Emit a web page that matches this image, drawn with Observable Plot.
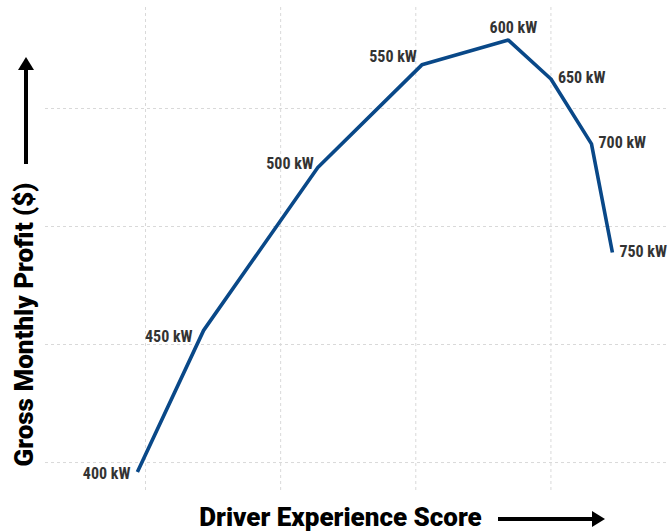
<!DOCTYPE html>
<html>
<head>
<meta charset="utf-8">
<script src="https://cdn.jsdelivr.net/npm/d3@7"></script>
<script src="https://cdn.jsdelivr.net/npm/@observablehq/plot@0.6"></script>
<style>
  html, body { margin: 0; padding: 0; background: #fff; }
  #chart svg { display: block; }
</style>
</head>
<body>
<div id="chart"></div>
<script>
// Data
const powerLabels = ["400 kW", "450 kW", "500 kW", "550 kW", "600 kW", "650 kW", "700 kW", "750 kW"];
const experienceScore = [18.8, 28.6, 45.5, 60.9, 73.7, 80.0, 86.0, 89.1];
const grossProfit = [920, 2120, 3500, 4370, 4580, 4250, 3700, 2780];
const xGridTicks = [20, 40, 60, 80];
const yGridTicks = [1000, 2000, 3000, 4000];
const xTitle = "Driver Experience Score";
const yTitle = "Gross Monthly Profit ($)";

const data = powerLabels.map((label, i) => ({label, x: experienceScore[i], y: grossProfit[i]}));

const labelFont = "'Liberation Sans Narrow', 'Roboto Condensed', Roboto, sans-serif";
const titleFont = "Roboto, 'Liberation Sans', sans-serif";

function labels(names, opts) {
  return Plot.text(data.filter(d => names.includes(d.label)), {
    x: "x", y: "y", text: "label",
    fill: "#333", fontSize: 16, fontWeight: "bold", fontFamily: labelFont,
    ...opts
  });
}

const chart = Plot.plot({
  width: 668,
  height: 531,
  marginLeft: 45,
  marginRight: 0,
  marginTop: 7,
  marginBottom: 41,
  x: {domain: [5.2, 97.4], axis: null},
  y: {domain: [763, 4856], axis: null},
  style: {background: "#fff"},
  marks: [
    Plot.gridX(xGridTicks, {stroke: "#d9d9d9", strokeOpacity: 1, strokeDasharray: "3,3", strokeWidth: 1}),
    Plot.gridY(yGridTicks, {stroke: "#d9d9d9", strokeOpacity: 1, strokeDasharray: "3,3", strokeWidth: 1}),
    Plot.line(data, {x: "x", y: "y", stroke: "#094888", strokeWidth: 3.6, strokeLinejoin: "miter", strokeLinecap: "butt"}),
    labels(["400 kW"], {textAnchor: "end", dx: -7, dy: 2}),
    labels(["450 kW"], {textAnchor: "end", dx: -11, dy: 7}),
    labels(["500 kW"], {textAnchor: "end", dx: -4, dy: -4}),
    labels(["550 kW"], {textAnchor: "end", dx: -5, dy: -8}),
    labels(["600 kW"], {textAnchor: "middle", dx: 5, dy: -12}),
    labels(["650 kW", "700 kW", "750 kW"], {textAnchor: "start", dx: 7, dy: -1}),
    Plot.text([xTitle], {frameAnchor: "bottom", text: d => d, dx: 340 - 356.5, dy: 27, fontSize: 26, fontWeight: 900, fontFamily: titleFont, fill: "#000", lineAnchor: "middle"})
  ]
});

const svg = d3.select(chart);
// Y axis title (rotated)
svg.append("text")
  .attr("transform", "translate(24,324.5) rotate(-90)")
  .attr("text-anchor", "middle")
  .attr("dy", "0.35em")
  .attr("font-family", titleFont)
  .attr("font-weight", 900)
  .attr("font-size", 26)
  .attr("fill", "#000")
  .text(yTitle);

// Decorative arrows next to the axis titles
const arrows = svg.append("g").attr("fill", "#000").attr("stroke", "#000");
arrows.append("line").attr("x1", 498).attr("x2", 594).attr("y1", 519).attr("y2", 519).attr("stroke-width", 4);
arrows.append("path").attr("stroke", "none").attr("d", "M605,519 L592,511 L592,527 Z");
arrows.append("line").attr("x1", 26).attr("x2", 26).attr("y1", 164).attr("y2", 68).attr("stroke-width", 4);
arrows.append("path").attr("stroke", "none").attr("d", "M26,57 L18,70 L34,70 Z");

document.getElementById("chart").appendChild(chart);
</script>
</body>
</html>
